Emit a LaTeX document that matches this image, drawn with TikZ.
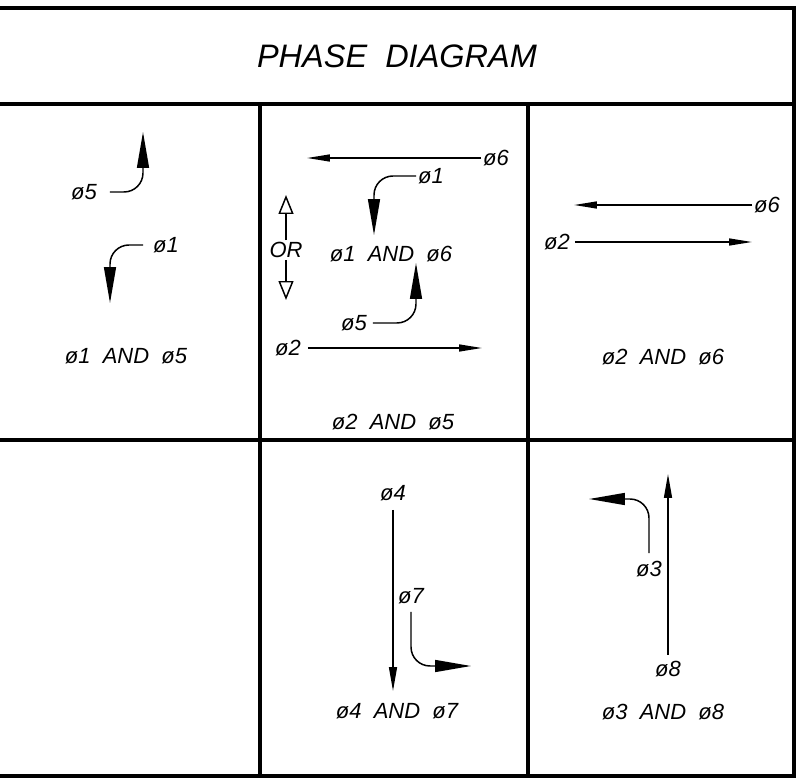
\documentclass[tikz,border=0pt]{standalone}
\usepackage{fontspec}
\setmainfont{Liberation Sans}
\usetikzlibrary{arrows.meta}

\begin{document}
\begin{tikzpicture}[x=0.02cm, y=-0.02cm,
        frame/.style={line width=1.8pt},
        lbl/.style={font=\fontsize{12.5}{14}\selectfont\itshape, inner sep=1pt},
        thin arrow/.style={line width=0.85pt, -{Triangle[length=0.46cm,width=0.14cm]}},
        mid arrow/.style={line width=0.85pt, -{Triangle[length=0.48cm,width=0.16cm]}},
        turn arrow/.style={line width=0.85pt, rounded corners=0.38cm, -{Triangle[length=0.72cm,width=0.24cm]}},
        or arrow/.style={line width=0.85pt, -{Triangle[open,length=0.38cm,width=0.3cm]}}]
    \useasboundingbox (0,0) rectangle (796,784);

    % frame and grid
    \draw[frame] (0,8) -- (794,8) -- (794,776) -- (0,776);
    \draw[frame] (0,104) -- (794,104);
    \draw[frame] (0,440) -- (794,440);
    \draw[frame] (260,104) -- (260,776);
    \draw[frame] (528,104) -- (528,776);

    \node[font=\fontsize{18.5}{22}\selectfont\itshape] (title) at (397,56) {PHASE\ \ DIAGRAM};

    % phases 1 and 5
    \node[lbl] (p5a) at (84,192) {ø5};
    \coordinate (p5a tip) at (143,132);
    \draw[turn arrow, shorten <=0.22cm] (p5a.east) -- (p5a.east -| p5a tip) -- (p5a tip);
    \node[lbl] (p1a) at (166,245) {ø1};
    \coordinate (p1a tip) at (110,303);
    \draw[turn arrow, shorten <=0.16cm] (p1a.west) -- (p1a.west -| p1a tip) -- (p1a tip);
    \node[lbl] (c1) at (126,356) {ø1\ \ AND\ \ ø5};

    % phases 2 and 5 / 1 and 6
    \node[lbl] (p6b) at (496,158) {ø6};
    \coordinate (p6b tip) at (307,158);
    \draw[thin arrow] (p6b.west) -- (p6b.west -| p6b tip);
    \node[lbl] (p1b) at (431,176) {ø1};
    \coordinate (p1b tip) at (374,235);
    \draw[turn arrow] (p1b.west) -- (p1b.west -| p1b tip) -- (p1b tip);
    \node[lbl] (or) at (286,250) {OR};
    \coordinate (or up) at (286,195);
    \coordinate (or down) at (286,300);
    \draw[or arrow] (or.north) -- (or up);
    \draw[or arrow] (or.south) -- (or down);
    \node[lbl] (c2a) at (391,254) {ø1\ \ AND\ \ ø6};
    \node[lbl] (p5b) at (354,323) {ø5};
    \coordinate (p5b tip) at (416,263);
    \draw[turn arrow, shorten <=0.08cm] (p5b.east) -- (p5b.east -| p5b tip) -- (p5b tip);
    \node[lbl] (p2b) at (288,348) {ø2};
    \coordinate (p2b tip) at (482,348);
    \draw[thin arrow, shorten <=0.1cm] (p2b.east) -- (p2b.east -| p2b tip);
    \node[lbl] (c2b) at (393,422) {ø2\ \ AND\ \ ø5};

    % phases 2 and 6
    \node[lbl] (p6c) at (767,205) {ø6};
    \coordinate (p6c tip) at (574,205);
    \draw[thin arrow] (p6c.west) -- (p6c.west -| p6c tip);
    \node[lbl] (p2c) at (557,242) {ø2};
    \coordinate (p2c tip) at (752,242);
    \draw[thin arrow, shorten <=0.06cm] (p2c.east) -- (p2c.east -| p2c tip);
    \node[lbl] (c3) at (663,357) {ø2\ \ AND\ \ ø6};

    % phases 4 and 7
    \node[lbl] (p4) at (393,493) {ø4};
    \coordinate (p4 tip) at (393,691);
    \draw[mid arrow, shorten <=0.14cm] (p4.south) -- (p4.south |- p4 tip);
    \node[lbl] (p7) at (411,596) {ø7};
    \coordinate (p7 tip) at (471,666);
    \draw[turn arrow, shorten <=0.12cm] (p7.south) -- (p7.south |- p7 tip) -- (p7 tip);
    \node[lbl] (c5) at (397,711) {ø4\ \ AND\ \ ø7};

    % phases 3 and 8
    \node[lbl] (p8) at (668,669) {ø8};
    \coordinate (p8 tip) at (668,474);
    \draw[mid arrow, shorten <=0.09cm] (p8.north) -- (p8.north |- p8 tip);
    \node[lbl] (p3) at (649,569) {ø3};
    \coordinate (p3 tip) at (589,499);
    \draw[turn arrow, shorten <=0.12cm] (p3.north) -- (p3.north |- p3 tip) -- (p3 tip);
    \node[lbl] (c6) at (663,712) {ø3\ \ AND\ \ ø8};
\end{tikzpicture}
\end{document}
